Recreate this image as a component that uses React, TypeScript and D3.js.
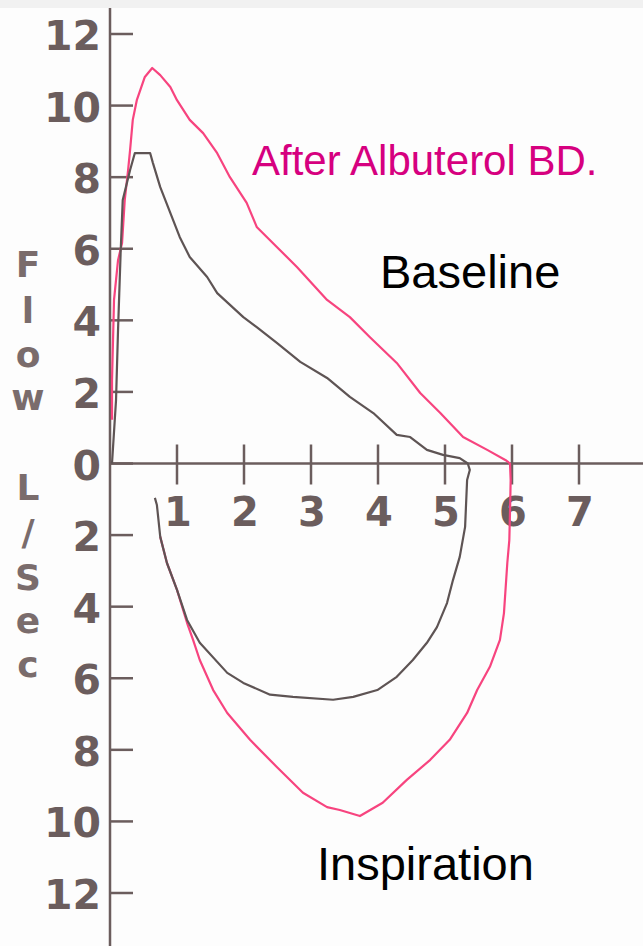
import * as d3 from "d3";
import React, { useEffect, useRef } from "react";

// volume (L) and flow (L/sec)
const baseVol = [0.03, 0.09, 0.12, 0.16, 0.19, 0.3, 0.37, 0.6, 0.64, 0.75, 0.9, 1.04, 1.19, 1.45, 1.6, 1.99, 2.19, 2.49, 2.84, 3.24, 3.58, 3.93, 4.28, 4.48, 4.73, 4.97, 5.22, 5.34, 5.37, 5.33, 5.3, 5.22, 5.12, 5.03, 4.88, 4.73, 4.52, 4.28, 3.99, 3.63, 3.33, 2.73, 2.39, 1.99, 1.75, 1.34, 1.15, 1.0, 0.85, 0.75, 0.7, 0.67];
const baseFlow = [0, 1.77, 3.73, 5.96, 7.36, 8.2, 8.67, 8.67, 8.4, 7.72, 7.0, 6.33, 5.77, 5.21, 4.76, 4.09, 3.81, 3.37, 2.84, 2.39, 1.86, 1.41, 0.8, 0.74, 0.38, 0.24, 0.15, 0, -0.18, -0.46, -1.77, -2.61, -3.25, -3.9, -4.57, -5.01, -5.49, -5.96, -6.33, -6.52, -6.6, -6.52, -6.46, -6.13, -5.85, -5.01, -4.37, -3.53, -2.78, -2.05, -1.16, -0.96];

const afterVol = [0.03, 0.03, 0.06, 0.12, 0.18, 0.22, 0.27, 0.3, 0.34, 0.4, 0.52, 0.63, 0.75, 0.9, 1.0, 1.19, 1.39, 1.6, 1.79, 2.04, 2.19, 2.49, 2.79, 3.24, 3.58, 3.88, 4.28, 4.63, 4.93, 5.27, 5.63, 5.9, 5.97, 5.98, 5.97, 5.96, 5.93, 5.88, 5.82, 5.67, 5.48, 5.33, 5.07, 4.78, 4.43, 4.07, 3.73, 3.43, 3.24, 2.88, 2.49, 2.09, 1.75, 1.54, 1.34, 1.24, 1.16, 1.0, 0.85, 0.75];
const afterFlow = [1.22, 2.33, 4.57, 5.68, 6.16, 7.36, 8.2, 8.76, 9.6, 10.15, 10.8, 11.05, 10.85, 10.52, 10.15, 9.6, 9.23, 8.67, 8.0, 7.28, 6.61, 6.05, 5.49, 4.57, 4.09, 3.53, 2.81, 1.97, 1.41, 0.74, 0.38, 0.1, 0, -0.46, -1.38, -2.14, -2.78, -4.18, -4.93, -5.68, -6.33, -6.97, -7.72, -8.28, -8.84, -9.48, -9.85, -9.68, -9.6, -9.2, -8.48, -7.72, -6.97, -6.33, -5.49, -4.93, -4.51, -3.53, -2.78, -2.05];

const xTicks = [1, 2, 3, 4, 5, 6, 7];
const yTicks = [12, 10, 8, 6, 4, 2, 0, -2, -4, -6, -8, -10, -12];
const axisTitle = ["F", "l", "o", "w", "L", "/", "S", "e", "c"];

export default function App() {
  const svgRef = useRef(null);
  useEffect(() => {
    document.body.style.margin = "0";
    const width = 643;
    const height = 946;
    const svg = d3.select(svgRef.current);
    svg.selectAll("*").remove();
    svg.attr("width", width).attr("height", height).style("display", "block").style("background", "#fdfdfd");

    const axisColor = "#6b5d5d";
    const x = d3.scaleLinear().domain([0, 7]).range([110, 579]);
    const y = d3.scaleLinear().domain([-12, 12]).range([893, 34]);

    svg.append("rect").attr("width", width).attr("height", 8).attr("fill", "#f1f1f1");

    // axes lines
    svg.append("line").attr("x1", x(0)).attr("x2", x(0)).attr("y1", 8).attr("y2", height)
      .attr("stroke", axisColor).attr("stroke-width", 2.5);
    svg.append("line").attr("x1", x(0)).attr("x2", width).attr("y1", y(0)).attr("y2", y(0))
      .attr("stroke", axisColor).attr("stroke-width", 2.5);

    // y ticks
    const yg = svg.append("g");
    yg.selectAll("line").data(yTicks).join("line")
      .attr("x1", x(0)).attr("x2", x(0) + 23)
      .attr("y1", (d) => y(d)).attr("y2", (d) => y(d))
      .attr("stroke", axisColor).attr("stroke-width", 2.5);
    yg.selectAll("text").data(yTicks).join("text")
      .attr("x", 101).attr("y", (d) => y(d) + 16)
      .attr("text-anchor", "end")
      .attr("font-family", "DejaVu Sans").attr("font-weight", "bold").attr("font-size", 41)
      .attr("fill", axisColor)
      .text((d) => Math.abs(d));

    // x ticks
    const xg = svg.append("g");
    xg.selectAll("line").data(xTicks).join("line")
      .attr("x1", (d) => x(d)).attr("x2", (d) => x(d))
      .attr("y1", y(0) - 19).attr("y2", y(0) + 21)
      .attr("stroke", axisColor).attr("stroke-width", 2.5);
    xg.selectAll("text").data(xTicks).join("text")
      .attr("x", (d) => x(d) + 1).attr("y", 526)
      .attr("text-anchor", "middle")
      .attr("font-family", "DejaVu Sans").attr("font-weight", "bold").attr("font-size", 40)
      .attr("fill", axisColor)
      .text((d) => d);

    // vertical axis title, one letter per line
    const titleBase = [277, 323, 367, 410, 500, 545, 590, 633, 677];
    svg.append("g").selectAll("text").data(axisTitle).join("text")
      .attr("x", 28).attr("y", (d, i) => titleBase[i])
      .attr("text-anchor", "middle")
      .attr("font-family", "DejaVu Sans").attr("font-weight", "bold").attr("font-size", 36)
      .attr("fill", "#7a6c6c")
      .text((d) => d);

    const line = d3.line().x((d) => x(d[0])).y((d) => y(d[1]));
    const after = afterVol.map((v, i) => [v, afterFlow[i]]);
    const base = baseVol.map((v, i) => [v, baseFlow[i]]);

    svg.append("path").attr("d", line(after)).attr("fill", "none")
      .attr("stroke", "#f7447f").attr("stroke-width", 2.2).attr("stroke-linejoin", "round");
    svg.append("path").attr("d", line(base)).attr("fill", "none")
      .attr("stroke", "#5e5454").attr("stroke-width", 2.2).attr("stroke-linejoin", "round");

    const lab = (t, px, py, size, color) =>
      svg.append("text").attr("x", px).attr("y", py)
        .attr("font-family", "Liberation Sans, Arial, sans-serif").attr("font-size", size)
        .attr("fill", color).text(t);
    lab("After Albuterol BD.", 252, 175, 42, "#d6007f");
    lab("Baseline", 380, 288, 47, "#000");
    lab("Inspiration", 317, 880, 47, "#000");
  }, []);

  return <svg ref={svgRef}></svg>;
}
